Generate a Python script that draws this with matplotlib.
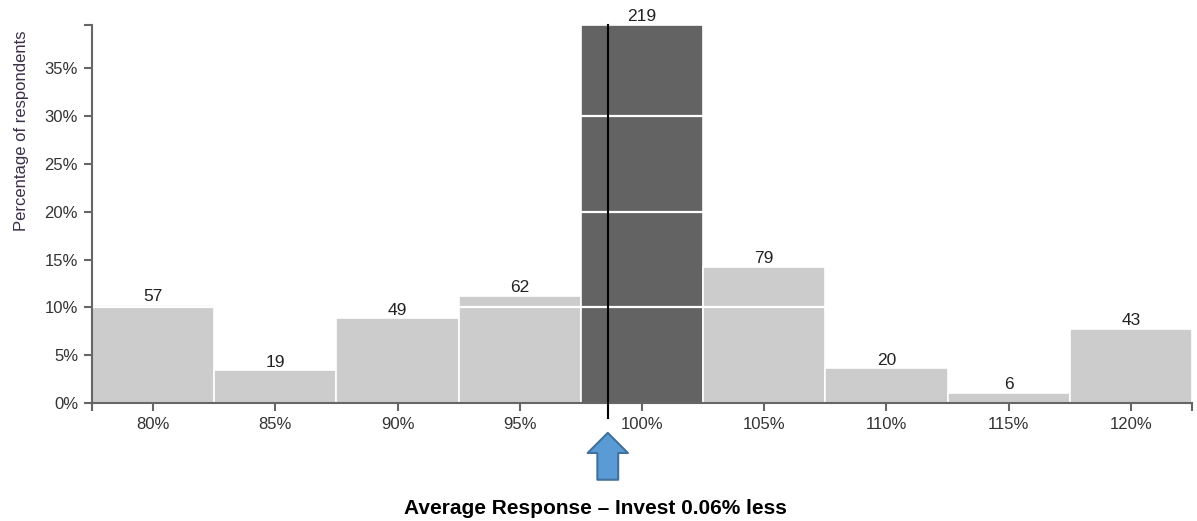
import matplotlib
matplotlib.use('Agg')
import matplotlib.pyplot as plt
from matplotlib.ticker import FixedLocator, FuncFormatter

# response buckets (% of recommended investment) and respondent counts
buckets = [80, 85, 90, 95, 100, 105, 110, 115, 120]
counts = [57, 19, 49, 62, 219, 79, 20, 6, 43]
highlight = 100
average_x = 98.6
caption = 'Average Response \u2013 Invest 0.06% less'

total = sum(counts)
pct = [c / total * 100 for c in counts]

plt.rcParams['font.family'] = ['Liberation Sans', 'DejaVu Sans']

fig = plt.figure(figsize=(11.97, 5.21), dpi=100)
ax = fig.add_axes([92 / 1197, 1 - 403 / 521, 1100 / 1197, 378 / 521])

colors = ['#636363' if b == highlight else '#cccccc' for b in buckets]
ax.bar(buckets, pct, width=5, color=colors, edgecolor='white', linewidth=1.2, zorder=2)

# white grid lines only show on top of the bars
for g in [10, 20, 30]:
    ax.axhline(g, color='white', linewidth=1.6, zorder=3)

for b, p, c in zip(buckets, pct, counts):
    ax.annotate(str(c), (b, p), xytext=(0, 0.5), textcoords='offset points',
                ha='center', va='bottom', fontsize=12.5, color='#222222', zorder=5)

ax.set_xlim(buckets[0] - 2.5, buckets[-1] + 2.5)
ax.set_ylim(0, max(pct))

ax.set_xticks(buckets)
ax.set_xticklabels([f'{b}%' for b in buckets])
ax.set_yticks(range(0, 40, 5))
ax.yaxis.set_major_formatter(FuncFormatter(lambda v, _: f'{v:.0f}%'))
ax.xaxis.set_minor_locator(FixedLocator([buckets[0] - 2.5, buckets[-1] + 2.5]))
ax.yaxis.set_minor_locator(FixedLocator([max(pct)]))

for s in ['top', 'right']:
    ax.spines[s].set_visible(False)
for s in ['left', 'bottom']:
    ax.spines[s].set_color('#666666')
    ax.spines[s].set_linewidth(1.5)
    ax.spines[s].set_zorder(4)

ax.tick_params(which='both', direction='out', length=6, width=1.5, color='#666666')
ax.tick_params(axis='both', labelsize=12, labelcolor='#333333', pad=4)

ax.set_ylabel('Percentage of respondents', fontsize=12, color='#3a3048')
ax.yaxis.set_label_coords(-0.057, 0.72)

# average marker line extending below the axis
ax.plot([average_x, average_x], [-1.57, max(pct)], color='black', linewidth=1.5,
        clip_on=False, zorder=6)

ax.annotate('', xy=(average_x, -0.079), xytext=(average_x, -0.203),
            xycoords=('data', 'axes fraction'), textcoords=('data', 'axes fraction'),
            arrowprops=dict(arrowstyle='simple,head_width=2.9,head_length=1.45,tail_width=1.5',
                            mutation_scale=10, fc='#5b9bd5', ec='#41719c', lw=1.5,
                            shrinkA=0, shrinkB=0))

fig.text(595 / 1197, 1 - 508 / 521, caption, ha='center', va='center',
         fontsize=15, fontweight='bold', color='black')

fig.savefig('out.png', dpi=100)
